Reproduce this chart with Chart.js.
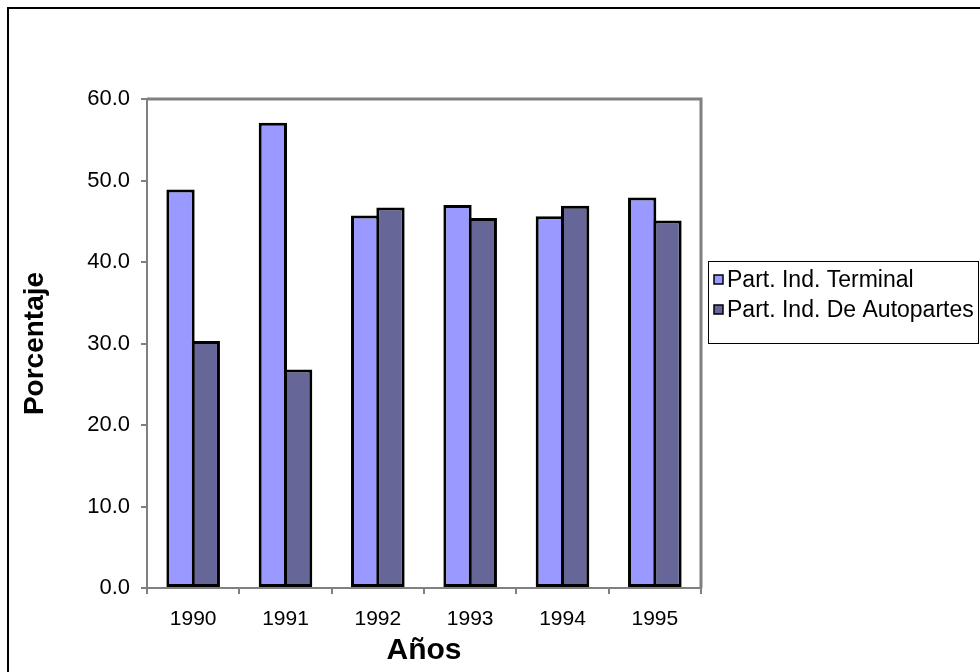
<!DOCTYPE html>
<html>
<head>
<meta charset="utf-8">
<script src="https://cdn.jsdelivr.net/npm/chart.js@4/dist/chart.umd.min.js"></script>
<style>
  html, body { margin: 0; padding: 0; background: #ffffff; }
  #wrap { width: 980px; height: 672px; position: relative; }
</style>
</head>
<body>
<div id="wrap"><canvas id="chart" width="980" height="672"></canvas></div>
<script>
// Años y participación (%) de cada rama industrial
const years = ['1990', '1991', '1992', '1993', '1994', '1995'];
const terminal = [48.9, 57.1, 45.7, 47.0, 45.6, 47.9];
const autopartes = [30.3, 26.8, 46.7, 45.4, 46.9, 45.1];
const seriesNames = ['Part. Ind. Terminal', 'Part. Ind. De Autopartes'];
const seriesColors = ['#9999FF', '#666699'];
const yTicks = [0, 10, 20, 30, 40, 50, 60];

const FONT = "'Liberation Sans', Arial, sans-serif";
const AXIS_GREY = '#808080';

// Frame lines, top/right plot border and the boxed legend
const decorations = {
  id: 'decorations',
  beforeDraw(chart) {
    const ctx = chart.ctx;
    ctx.save();
    ctx.fillStyle = '#ffffff';
    ctx.fillRect(0, 0, chart.width, chart.height);
    ctx.restore();
  },
  afterDatasetsDraw(chart) {
    const { ctx, chartArea: a } = chart;
    ctx.save();
    // plot area border (top and right)
    ctx.strokeStyle = AXIS_GREY;
    ctx.lineWidth = 3;
    ctx.beginPath();
    ctx.moveTo(a.left, a.top);
    ctx.lineTo(a.right, a.top);
    ctx.lineTo(a.right, a.bottom);
    ctx.stroke();
    ctx.restore();
  },
  afterDraw(chart) {
    const ctx = chart.ctx;
    ctx.save();
    // outer chart frame
    ctx.strokeStyle = '#000000';
    ctx.lineWidth = 2;
    ctx.beginPath();
    ctx.moveTo(8, chart.height);
    ctx.lineTo(8, 8);
    ctx.lineTo(chart.width, 8);
    ctx.stroke();

    // legend box
    const lx = 708, ly = 261, lw = 270, lh = 82;
    ctx.lineWidth = 1;
    ctx.strokeStyle = '#000000';
    ctx.strokeRect(lx + 0.5, ly + 0.5, lw, lh);
    ctx.font = '23px ' + FONT;
    ctx.textBaseline = 'middle';
    ctx.textAlign = 'left';
    chart.data.datasets.forEach((ds, i) => {
      const cy = ly + 18 + i * 30;
      ctx.fillStyle = ds.backgroundColor;
      ctx.fillRect(lx + 6, cy - 4, 9, 9);
      ctx.strokeStyle = '#000000';
      ctx.lineWidth = 1.5;
      ctx.strokeRect(lx + 6, cy - 4, 9, 9);
      ctx.fillStyle = '#000000';
      ctx.fillText(ds.label, lx + 19, cy + 2);
    });
    ctx.restore();
  }
};

new Chart(document.getElementById('chart'), {
  type: 'bar',
  data: {
    labels: years,
    datasets: [
      { label: seriesNames[0], data: terminal, backgroundColor: seriesColors[0] },
      { label: seriesNames[1], data: autopartes, backgroundColor: seriesColors[1] }
    ]
  },
  options: {
    responsive: false,
    animation: false,
    devicePixelRatio: 1,
    layout: { padding: { left: 0, top: 99, right: 279, bottom: 0 } },
    datasets: {
      bar: {
        categoryPercentage: 0.548,
        barPercentage: 1.119,
        borderColor: '#000000',
        borderWidth: 3,
        borderSkipped: false
      }
    },
    plugins: {
      legend: { display: false },
      tooltip: { enabled: false }
    },
    scales: {
      x: {
        afterFit(scale) { scale.height = 84; },
        grid: {
          offset: true,
          drawOnChartArea: false,
          drawTicks: true,
          tickLength: 6,
          color: AXIS_GREY,
          lineWidth: 2
        },
        border: { display: true, color: AXIS_GREY, width: 2 },
        ticks: { color: '#000000', font: { family: FONT, size: 21 }, padding: 13 },
        title: {
          display: true,
          text: 'Años',
          color: '#000000',
          font: { family: FONT, size: 30, weight: 'bold' },
          padding: { top: 0, bottom: 3 }
        }
      },
      y: {
        min: 0,
        max: 60,
        afterFit(scale) { scale.width = 147; },
        afterBuildTicks(scale) { scale.ticks = yTicks.map(v => ({ value: v })); },
        grid: {
          drawOnChartArea: false,
          drawTicks: true,
          tickLength: 6,
          color: AXIS_GREY,
          lineWidth: 2
        },
        border: { display: true, color: AXIS_GREY, width: 2 },
        ticks: {
          color: '#000000',
          font: { family: FONT, size: 22 },
          padding: 11,
          callback: (v) => Number(v).toFixed(1)
        },
        title: {
          display: true,
          text: 'Porcentaje',
          color: '#000000',
          font: { family: FONT, size: 28, weight: 'bold' },
          padding: { top: 18, bottom: 0 }
        }
      }
    }
  },
  plugins: [decorations]
});
</script>
</body>
</html>
